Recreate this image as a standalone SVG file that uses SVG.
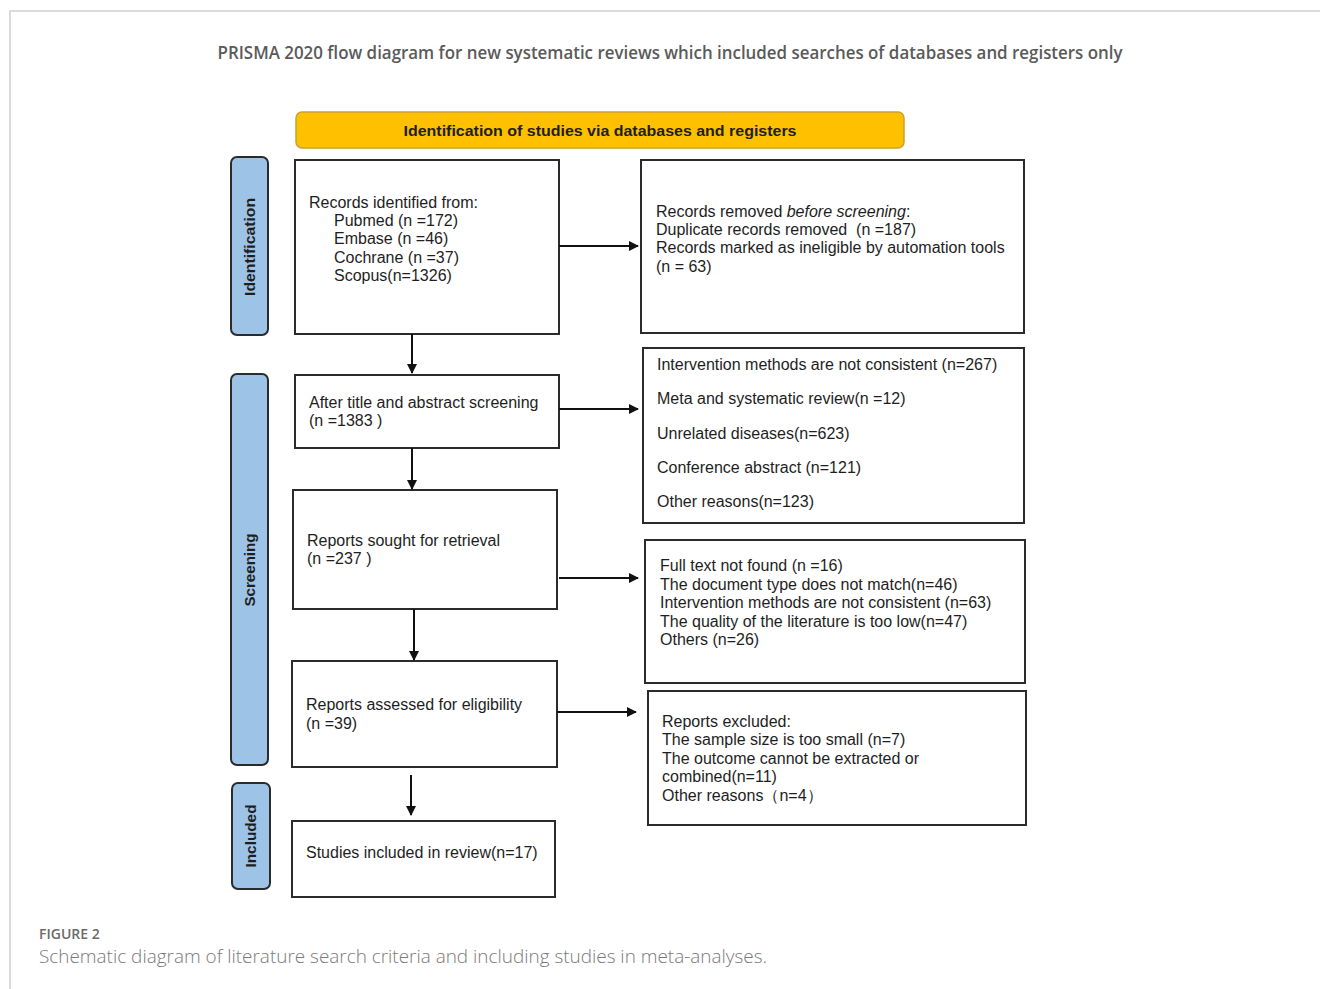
<svg xmlns="http://www.w3.org/2000/svg" width="1320" height="989" viewBox="0 0 1320 989">
<style>
.box{fill:#fff;stroke:#2b2b2b;stroke-width:2}
.side{fill:#9dc3e6;stroke:#2b2b2b;stroke-width:2}
.t{font-family:"Liberation Sans",Arial,sans-serif;font-size:16px;fill:#1e1e1e}
.sl{font-family:"Liberation Sans",Arial,sans-serif;font-size:15px;font-weight:bold;fill:#1e1e1e}
.conn{stroke:#111;stroke-width:2;fill:none;marker-end:url(#ah)}
</style>
<defs>
<marker id="ah" markerWidth="10" markerHeight="10" refX="9" refY="5" orient="auto" markerUnits="userSpaceOnUse">
<path d="M0,0 L10,5 L0,10 z" fill="#111"/>
</marker>
</defs>
<rect width="1320" height="989" fill="#fff"/>
<path d="M10,989 V11 H1320" fill="none" stroke="#cfcfcf" stroke-width="1.5"/>
<text x="670" y="59" text-anchor="middle" font-family="'Open Sans',Lato,sans-serif" font-size="18" font-weight="600" fill="#5a5a5a" textLength="905" lengthAdjust="spacingAndGlyphs">PRISMA 2020 flow diagram for new systematic reviews which included searches of databases and registers only</text>

<g id="header">
<rect x="296" y="112" width="608" height="36" rx="6" fill="#ffc000" stroke="#c9a227" stroke-width="1.5"/>
<text x="600" y="136" text-anchor="middle" class="sl" font-size="16" textLength="393" lengthAdjust="spacingAndGlyphs">Identification of studies via databases and registers</text>
</g>

<g id="lbl-identification">
<rect class="side" x="231" y="157" width="37" height="178" rx="6"/>
<text class="sl" transform="translate(255,247) rotate(-90)" text-anchor="middle" textLength="98" lengthAdjust="spacingAndGlyphs">Identification</text>
</g>
<g id="lbl-screening">
<rect class="side" x="231" y="374" width="37" height="391" rx="6"/>
<text class="sl" transform="translate(255,570) rotate(-90)" text-anchor="middle" textLength="73" lengthAdjust="spacingAndGlyphs">Screening</text>
</g>
<g id="lbl-included">
<rect class="side" x="232" y="783" width="38" height="106" rx="6"/>
<text class="sl" transform="translate(256,836) rotate(-90)" text-anchor="middle" textLength="63" lengthAdjust="spacingAndGlyphs">Included</text>
</g>

<g id="records-identified">
<rect class="box" x="295" y="160" width="264" height="174"/>
<text class="t" x="309" y="208">Records identified from:</text>
<text class="t" x="334" y="226">Pubmed (n =172)</text>
<text class="t" x="334" y="244">Embase (n =46)</text>
<text class="t" x="334" y="263">Cochrane (n =37)</text>
<text class="t" x="334" y="281">Scopus(n=1326)</text>
</g>

<g id="records-removed">
<rect class="box" x="641" y="160" width="383" height="173"/>
<text class="t" x="656" y="217">Records removed <tspan font-style="italic">before screening</tspan>:</text>
<text class="t" x="656" y="235">Duplicate records removed&#160; (n =187)</text>
<text class="t" x="656" y="253">Records marked as ineligible by automation tools</text>
<text class="t" x="656" y="272">(n = 63)</text>
</g>

<g id="title-abstract">
<rect class="box" x="295" y="375" width="264" height="73"/>
<text class="t" x="309" y="408">After title and abstract screening</text>
<text class="t" x="309" y="426">(n =1383 )</text>
</g>

<g id="excluded-1">
<rect class="box" x="643" y="348" width="381" height="175"/>
<text class="t" x="657" y="370">Intervention methods are not consistent (n=267)</text>
<text class="t" x="657" y="404">Meta and systematic review(n =12)</text>
<text class="t" x="657" y="439">Unrelated diseases(n=623)</text>
<text class="t" x="657" y="473">Conference abstract (n=121)</text>
<text class="t" x="657" y="507">Other reasons(n=123)</text>
</g>

<g id="reports-sought">
<rect class="box" x="293" y="490" width="264" height="119"/>
<text class="t" x="307" y="546">Reports sought for retrieval</text>
<text class="t" x="307" y="564">(n =237 )</text>
</g>

<g id="excluded-2">
<rect class="box" x="645" y="540" width="380" height="143"/>
<text class="t" x="660" y="571">Full text not found (n =16)</text>
<text class="t" x="660" y="590">The document type does not match(n=46)</text>
<text class="t" x="660" y="608">Intervention methods are not consistent (n=63)</text>
<text class="t" x="660" y="627">The quality of the literature is too low(n=47)</text>
<text class="t" x="660" y="645">Others (n=26)</text>
</g>

<g id="reports-assessed">
<rect class="box" x="292" y="661" width="265" height="106"/>
<text class="t" x="306" y="710">Reports assessed for eligibility</text>
<text class="t" x="306" y="729">(n =39)</text>
</g>

<g id="reports-excluded">
<rect class="box" x="648" y="691" width="378" height="134"/>
<text class="t" x="662" y="727">Reports excluded:</text>
<text class="t" x="662" y="745">The sample size is too small (n=7)</text>
<text class="t" x="662" y="764">The outcome cannot be extracted or</text>
<text class="t" x="662" y="782">combined(n=11)</text>
<text class="t" x="662" y="801">Other reasons（n=4）</text>
</g>

<g id="studies-included">
<rect class="box" x="292" y="821" width="263" height="76"/>
<text class="t" x="306" y="858">Studies included in review(n=17)</text>
</g>

<g id="connectors">
<line class="conn" x1="559" y1="246" x2="638" y2="246"/>
<line class="conn" x1="412" y1="334" x2="412" y2="373"/>
<line class="conn" x1="559" y1="409" x2="638" y2="409"/>
<line class="conn" x1="412" y1="448" x2="412" y2="489"/>
<line class="conn" x1="559" y1="578" x2="638" y2="578"/>
<line class="conn" x1="414" y1="609" x2="414" y2="660"/>
<line class="conn" x1="557" y1="712" x2="636" y2="712"/>
<line class="conn" x1="411" y1="775" x2="411" y2="815"/>
</g>

<text x="39" y="939" font-family="'Open Sans',Lato,sans-serif" font-size="14" font-weight="600" fill="#6b6b6b">FIGURE 2</text>
<text x="39" y="963" font-family="'Open Sans',Lato,sans-serif" font-size="18" font-weight="300" fill="#7a7a7a" textLength="728" lengthAdjust="spacingAndGlyphs">Schematic diagram of literature search criteria and including studies in meta-analyses.</text>
</svg>
